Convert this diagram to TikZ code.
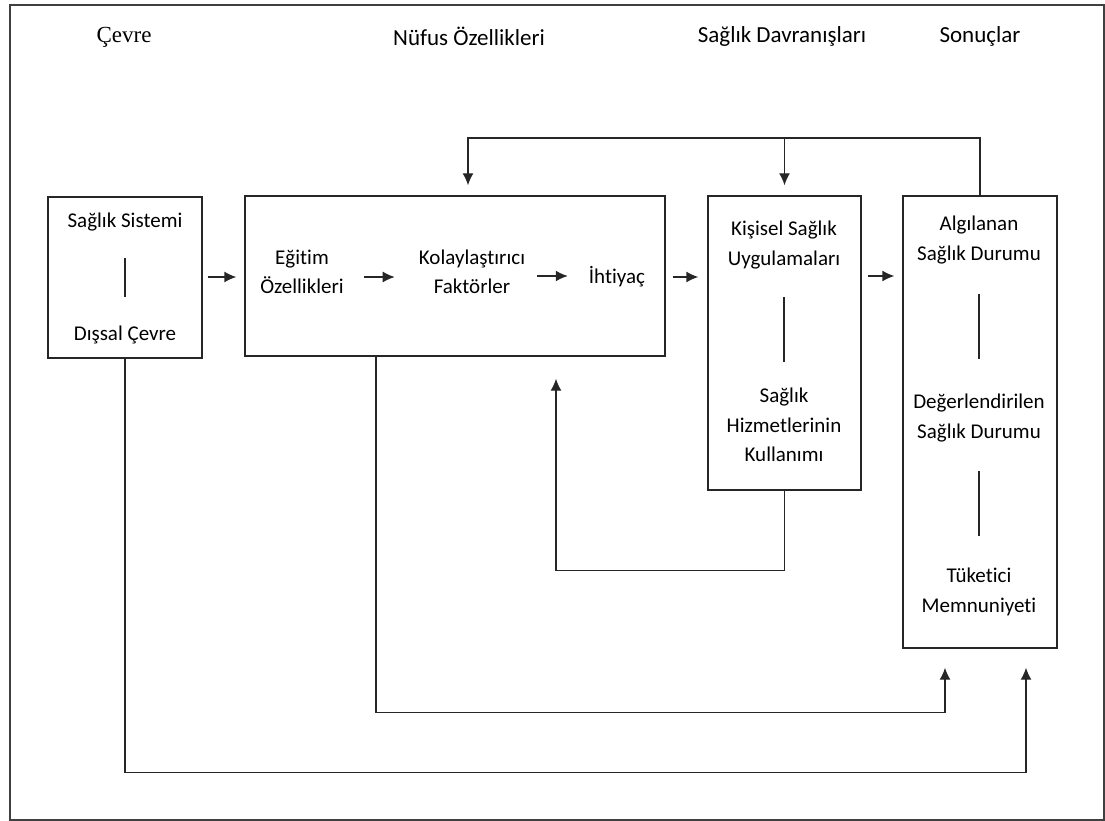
\documentclass[tikz,border=0pt]{standalone}
\usepackage{fontspec}
\setmainfont[Ligatures=NoCommon]{Carlito}
\newfontfamily\headserif{Liberation Serif}
\usetikzlibrary{arrows.meta}

\tikzset{
  kutu/.style={draw=black!85, line width=1.4pt, inner sep=0pt},
  yazi/.style={inner sep=0pt, align=center, font=\fontsize{21}{29.5}\selectfont},
  baslik/.style={inner sep=0pt, font=\fontsize{23}{28}\selectfont},
  ok/.style={draw=black!85, line width=1.4pt, -{Latex[length=12pt,width=11pt]}},
  cizgi/.style={draw=black!85, line width=1.4pt}
}

\begin{document}
\begin{tikzpicture}[x=1pt,y=1pt,yscale=-1]
\useasboundingbox (0,0) rectangle (1105,821);
%Frame
\draw [black!75, line width=1.5pt] (10,5) rectangle (1104,820);
% Headers
\node (hcevre) at (124,37) [baslik] {\headserif Çevre};
\node (hnufus) at (469,36) [baslik] {Nüfus Özellikleri};
\node (hdavranis) at (782,36) [baslik] {Sağlık Davranışları};
\node (hsonuc) at (980,36) [baslik] {Sonuçlar};
% Boxes
\node (cevre) at (125,277.5) [kutu, minimum width=154pt, minimum height=161pt] {};
\node (nufus) at (455,276) [kutu, minimum width=420pt, minimum height=160pt] {};
\node (davranis) at (784.5,343) [kutu, minimum width=153pt, minimum height=294pt] {};
\node (sonuc) at (980,422) [kutu, minimum width=154pt, minimum height=452pt] {};
% Text Node
\node (sistem) at (125,222) [yazi] {Sağlık Sistemi};
\node (dissal) at (125,335) [yazi] {Dışsal Çevre};
\node (egitim) at (302,272) [yazi] {Eğitim\\Özellikleri};
\node (kolay) at (472,272) [yazi] {Kolaylaştırıcı\\Faktörler};
\node (ihtiyac) at (617,277) [yazi] {İhtiyaç};
\node (kisisel) at (784,245) [yazi] {Kişisel Sağlık\\Uygulamaları};
\node (hizmet) at (784,425) [yazi] {Sağlık\\Hizmetlerinin\\Kullanımı};
\node (algi) at (979,240) [yazi] {Algılanan\\Sağlık Durumu};
\node (deger) at (979,418) [yazi] {Değerlendirilen\\Sağlık Durumu};
\node (tuketici) at (979,592) [yazi] {Tüketici\\Memnuniyeti};
% Straight Lines
\draw [cizgi, shorten <=27pt, shorten >=29pt] (sistem) -- (dissal);
\draw [cizgi, shorten <=28pt, shorten >=26pt] (kisisel) -- (hizmet);
\draw [cizgi, shorten <=30pt, shorten >=35pt] (algi) -- (deger);
\draw [cizgi, shorten <=29pt, shorten >=32pt] (deger) -- (tuketici);
% Arrows
\draw [ok, shorten <=5pt, shorten >=8pt] (cevre.east |- 0,277) -- (nufus.west |- 0,277);
\draw [ok, shorten <=20pt, shorten >=24pt] (egitim.east |- 0,277) -- (kolay.west |- 0,277);
\draw [ok, shorten <=12pt, shorten >=21pt] (kolay.east |- 0,276) -- (ihtiyac.west |- 0,276);
\draw [ok, shorten <=7pt, shorten >=9pt] (nufus.east |- 0,277) -- (davranis.west |- 0,277);
\draw [ok, shorten <=6pt, shorten >=8pt] (davranis.east |- 0,276) -- (sonuc.west |- 0,276);
% Feedback
\coordinate (ust) at (sonuc.north |- 0,138);
\draw [ok, shorten >=10pt] (sonuc.north) -- (ust) -| ([xshift=13pt]nufus.north);
\draw [ok, shorten >=10pt] (davranis.north |- ust) -- (davranis.north);
\draw [ok, shorten >=22pt] (davranis.south) -- ++(0,80) -| ([xshift=101pt]nufus.south);
\draw [ok, shorten >=19pt] ([xshift=-79pt]nufus.south) -- ++(0,356) -| ([xshift=-35pt]sonuc.south);
\draw [ok, shorten >=19pt] (cevre.south) -- ++(0,414) -| ([xshift=46pt]sonuc.south);
\end{tikzpicture}
\end{document}
